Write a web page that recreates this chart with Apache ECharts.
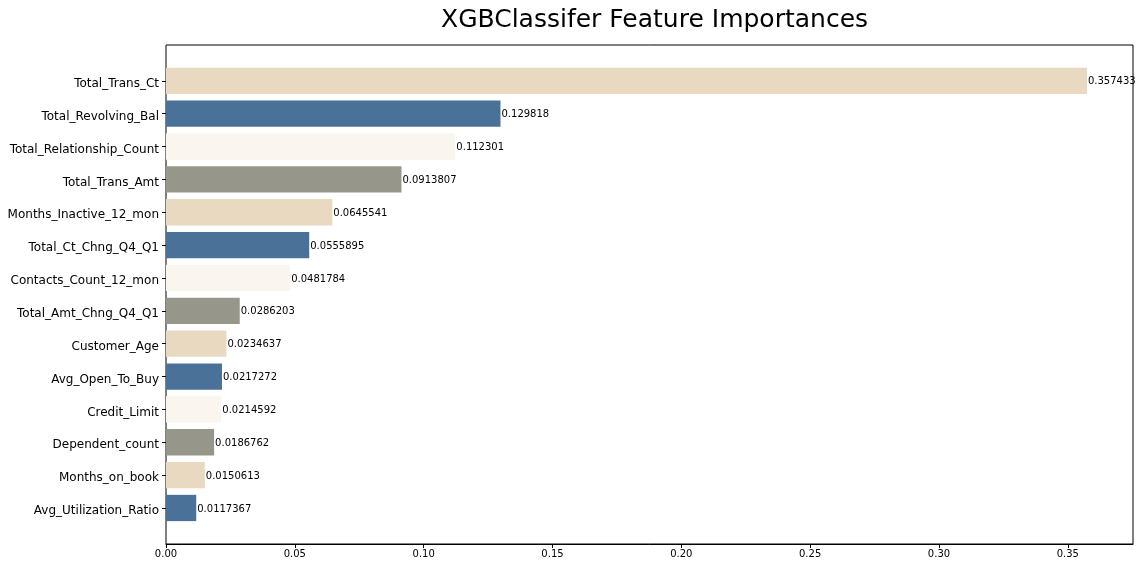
<!DOCTYPE html>
<html>
<head>
<meta charset="utf-8">
<script src="https://cdn.jsdelivr.net/npm/echarts@6/dist/echarts.min.js"></script>
<style>html,body{margin:0;padding:0;background:#fff}#c{width:1141px;height:568px}</style>
</head>
<body>
<div id="c"></div>
<script>
const categories = ["Total_Trans_Ct","Total_Revolving_Bal","Total_Relationship_Count","Total_Trans_Amt","Months_Inactive_12_mon","Total_Ct_Chng_Q4_Q1","Contacts_Count_12_mon","Total_Amt_Chng_Q4_Q1","Customer_Age","Avg_Open_To_Buy","Credit_Limit","Dependent_count","Months_on_book","Avg_Utilization_Ratio"];
const importances = [0.357433,0.129818,0.112301,0.0913807,0.0645541,0.0555895,0.0481784,0.0286203,0.0234637,0.0217272,0.0214592,0.0186762,0.0150613,0.0117367];
const palette = ["#e8d9c0","#4a7298","#faf6ef","#97968b"];
const xTicks = [0,0.05,0.10,0.15,0.20,0.25,0.30,0.35];

const xMax = 0.357433*1.05;
const font = "DejaVu Sans";
const chart = echarts.init(document.getElementById('c'));
chart.setOption({
  backgroundColor:'#fff',
  animation:false,
  title:{text:'XGBClassifer Feature Importances',left:436,top:3,textStyle:{fontFamily:font,fontSize:25,fontWeight:'normal',color:'#000'}},
  grid:[
    {left:166,right:8,top:45,bottom:24,show:true,borderColor:'#000',borderWidth:1,backgroundColor:'transparent'},
    {left:166,right:8,top:64.4,height:460}
  ],
  xAxis:[
    {gridIndex:0,type:'value',min:0,max:xMax,interval:0.05,
     axisLine:{show:true,lineStyle:{color:'#000'}},
     axisTick:{show:true,length:4,lineStyle:{color:'#000'}},
     splitLine:{show:false},
     axisLabel:{fontFamily:font,fontSize:10,color:'#000',margin:5,showMaxLabel:false,
       formatter:v=>{const t=xTicks.find(x=>Math.abs(x-v)<1e-9);return t===undefined?'':t.toFixed(2);}}},
    {gridIndex:1,type:'value',min:0,max:xMax,show:false}
  ],
  yAxis:[
    {gridIndex:0,type:'value',show:false},
    {gridIndex:1,type:'category',inverse:true,data:categories,
     axisLine:{show:false},
     axisTick:{show:true,length:4,alignWithLabel:true,lineStyle:{color:'#000'}},
     axisLabel:{margin:7,formatter:v=>'{a|'+v+'}',
       rich:{a:{fontFamily:font,fontSize:12,color:'#000',padding:[6,0,0,0]}}}}
  ],
  series:[{
    type:'bar',xAxisIndex:1,yAxisIndex:1,barWidth:'80%',
    data:importances.map((v,i)=>({value:v,itemStyle:{color:palette[i%palette.length]}})),
    label:{show:true,position:'right',distance:1,offset:[0,1],fontFamily:font,fontSize:10,color:'#000',
      formatter:p=>String(Number(p.value.toPrecision(6)))}
  }]
});
</script>
</body>
</html>
